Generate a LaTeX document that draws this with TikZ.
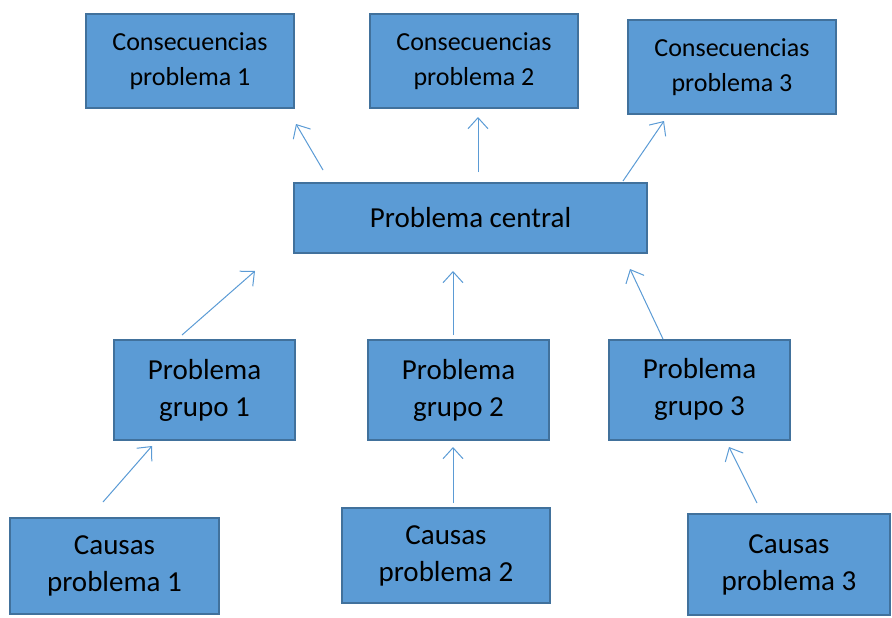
\documentclass[tikz,border=0pt]{standalone}
\usepackage{fontspec}
\setmainfont{Carlito}
\usetikzlibrary{arrows.meta}
\definecolor{boxfill}{HTML}{5B9BD5}
\definecolor{boxline}{HTML}{41719C}
\definecolor{arr}{HTML}{5B9BD5}
\begin{document}
\begin{tikzpicture}[x=1pt,y=-1pt,
  box/.style={draw=boxline,fill=boxfill,line width=2pt,inner sep=0pt,align=center,
    font=\fontsize{29}{37}\selectfont},
  topbox/.style={box,font=\fontsize{26}{35}\selectfont},
  conn/.style={draw=arr,line width=1pt,-{Straight Barb[length=11pt,width=20pt,line width=1pt]}}]
\useasboundingbox (0,0) rectangle (892,618);
\node[topbox,minimum width=208pt,minimum height=94pt] (c1) at (190,61) {Consecuencias\\problema 1};
\node[topbox,minimum width=208pt,minimum height=94pt] (c2) at (474,61) {Consecuencias\\problema 2};
\node[topbox,minimum width=208pt,minimum height=94pt] (c3) at (732,67) {Consecuencias\\problema 3};
\node[box,minimum width=353pt,minimum height=70pt] (pc) at (470.5,218) {Problema central};
\node[box,minimum width=181pt,minimum height=100pt] (g1) at (204.5,390) {Problema\\grupo 1};
\node[box,minimum width=181pt,minimum height=100pt] (g2) at (458.5,390) {Problema\\grupo 2};
\node[box,minimum width=181pt,minimum height=100pt] (g3) at (699.5,389.5) {Problema\\grupo 3};
\node[box,minimum width=209pt,minimum height=96pt] (k1) at (114.5,566) {Causas\\problema 1};
\node[box,minimum width=208pt,minimum height=95pt] (k2) at (446,555.5) {Causas\\problema 2};
\node[box,minimum width=202pt,minimum height=101pt] (k3) at (789,564.5) {Causas\\problema 3};
\coordinate (a1t) at (323,170); \coordinate (a1h) at (296,124);
\coordinate (a2t) at (478,172); \coordinate (a2h) at (478,117);
\coordinate (a3t) at (623,181); \coordinate (a3h) at (664,121);
\coordinate (a4t) at (182,335); \coordinate (a4h) at (255,271);
\coordinate (a5t) at (453,335); \coordinate (a5h) at (453,271);
\coordinate (a6t) at (663,339); \coordinate (a6h) at (630,269);
\coordinate (a7t) at (103,502); \coordinate (a7h) at (152,446);
\coordinate (a8t) at (453,503); \coordinate (a8h) at (453,447);
\coordinate (a9t) at (757,503); \coordinate (a9h) at (729,447);
\foreach \i in {1,...,9} \draw[conn] (a\i t) -- (a\i h);
\end{tikzpicture}
\end{document}
